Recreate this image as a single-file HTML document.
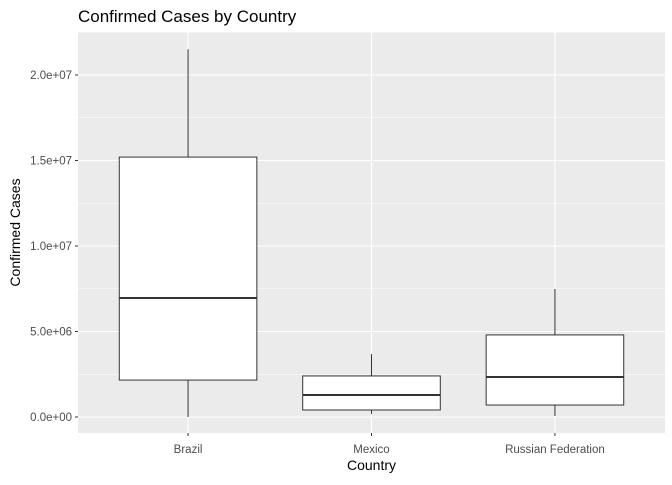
<!DOCTYPE html>
<html><head><meta charset="utf-8"><style>
body{margin:0;background:#fff;font-family:"Liberation Sans",Arial,sans-serif}
</style></head><body>
<svg id="chart" width="672" height="480" xmlns="http://www.w3.org/2000/svg"></svg>
<script>
const categories=["Brazil","Mexico","Russian Federation"];
const whiskerLow=[0,180000,60000];
const q1=[2160000,410000,700000];
const medians=[6960000,1290000,2340000];
const q3=[15200000,2400000,4800000];
const whiskerHigh=[21500000,3680000,7490000];
const yTicks=[0,5e6,1e7,1.5e7,2e7];
const yTickLabels=["0.0e+00","5.0e+06","1.0e+07","1.5e+07","2.0e+07"];

const NS="http://www.w3.org/2000/svg";
const svg=document.getElementById('chart');
const L=78,R=665,T=32,B=433;
const y=v=>417-v*(85.5/5e6);
const step=(R-L)/3.2;
const x=i=>L+step*(0.6+i);
function mk(tag,attrs,parent){const e=document.createElementNS(NS,tag);for(const k in attrs)e.setAttribute(k,attrs[k]);(parent||svg).appendChild(e);return e;}
const panel=mk('rect',{x:L,y:T,width:R-L,height:B-T,fill:'#ebebeb'});


for(let i=0;i<yTicks.length;i++){
  const v=yTicks[i]+2.5e6; const yy=y(v);
  if(yy>T){const g=mk('line',{x1:L,x2:R,y1:yy,y2:yy,stroke:'#fff','stroke-width':0.5});
  
  }
}
const ym=y(-2.5e6); if(ym<B){mk('line',{x1:L,x2:R,y1:ym,y2:ym,stroke:'#fff','stroke-width':0.5});}
yTicks.forEach((v,i)=>{
  const yy=y(v);
  const g=mk('line',{x1:L,x2:R,y1:yy,y2:yy,stroke:'#fff','stroke-width':1.1});
  
  
  mk('line',{x1:L-3,x2:L,y1:yy,y2:yy,stroke:'#333','stroke-width':1});
  const t=mk('text',{x:L-6,y:yy+4,'text-anchor':'end','font-size':11.5,fill:'#4d4d4d'});
  t.textContent=yTickLabels[i];
  
  
});
categories.forEach((c,i)=>{
  const cx=x(i);
  const g=mk('line',{x1:cx,x2:cx,y1:T,y2:B,stroke:'#fff','stroke-width':1.1});
  mk('line',{x1:cx,x2:cx,y1:B,y2:B+3,stroke:'#333','stroke-width':1});
  const t=mk('text',{x:cx,y:B+20,'text-anchor':'middle','font-size':11.5,fill:'#4d4d4d'});
  t.textContent=c;
  
  
});
categories.forEach((c,i)=>{
  const cx=x(i), w=step*0.75;
  const grp=mk('g',{});
  
  
  mk('line',{x1:cx,x2:cx,y1:y(whiskerHigh[i]),y2:y(q3[i]),stroke:'#333','stroke-width':1},grp);
  mk('line',{x1:cx,x2:cx,y1:y(q1[i]),y2:y(whiskerLow[i]),stroke:'#333','stroke-width':1},grp);
  mk('rect',{x:cx-w/2,y:y(q3[i]),width:w,height:y(q1[i])-y(q3[i]),fill:'#fff',stroke:'#333','stroke-width':1},grp);
  mk('line',{x1:cx-w/2,x2:cx+w/2,y1:y(medians[i]),y2:y(medians[i]),stroke:'#333','stroke-width':2},grp);
});
const title=mk('text',{x:L,y:22,'font-size':17,fill:'#000'});
title.textContent='Confirmed Cases by Country';


const xt=mk('text',{x:(L+R)/2,y:470,'text-anchor':'middle','font-size':14,fill:'#000'});
xt.textContent='Country';


const yt=mk('text',{x:0,y:0,'text-anchor':'middle','font-size':14,fill:'#000',transform:`translate(20,${(T+B)/2}) rotate(-90)`});
yt.textContent='Confirmed Cases';


</script>
</body></html>
